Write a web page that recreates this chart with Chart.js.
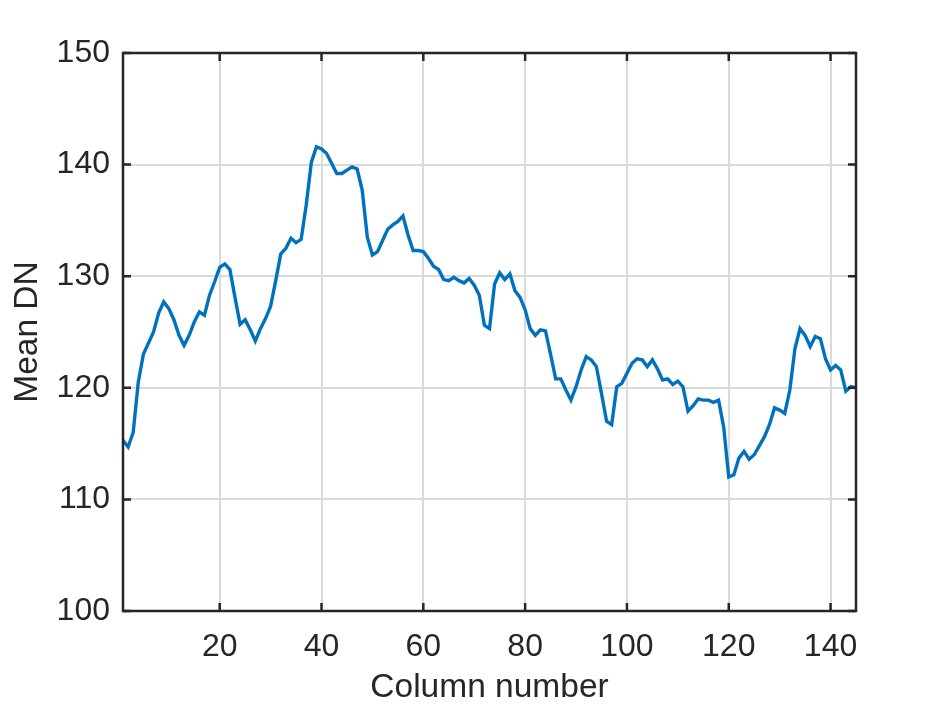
<!DOCTYPE html>
<html>
<head>
<meta charset="utf-8">
<script src="https://cdn.jsdelivr.net/npm/chart.js@4.4.0/dist/chart.umd.min.js"></script>
<style>
  body { margin: 0; background: #fff; }
  #grafico { display: block; }
</style>
</head>
<body>
<canvas id="grafico" width="945" height="708"></canvas>
<script>
// valores (Mean DN por columna)
const meanDN = [
  115.3, 114.7, 116.0, 120.5, 123.0, 124.0, 125.0, 126.7, 127.7, 127.1,
  126.1, 124.7, 123.8, 124.7, 125.9, 126.8, 126.5, 128.3, 129.5, 130.8,
  131.1, 130.6, 128.1, 125.7, 126.1, 125.2, 124.2, 125.3, 126.2, 127.3,
  129.6, 132.0, 132.5, 133.4, 133.0, 133.3, 136.4, 140.2, 141.6, 141.4,
  141.0, 140.1, 139.2, 139.2, 139.5, 139.8, 139.6, 137.7, 133.5, 131.9,
  132.2, 133.2, 134.2, 134.6, 134.9, 135.4, 133.7, 132.3, 132.3, 132.2,
  131.6, 130.9, 130.6, 129.7, 129.6, 129.9, 129.6, 129.4, 129.8, 129.2,
  128.3, 125.6, 125.3, 129.3, 130.3, 129.7, 130.2, 128.7, 128.1, 127.0,
  125.3, 124.7, 125.2, 125.1, 123.0, 120.8, 120.8, 119.8, 118.9, 120.1,
  121.6, 122.8, 122.5, 121.9, 119.5, 117.0, 116.7, 120.1, 120.4, 121.3,
  122.2, 122.6, 122.5, 121.9, 122.5, 121.7, 120.7, 120.8, 120.3, 120.6,
  120.1, 117.9, 118.4, 119.0, 118.9, 118.9, 118.7, 118.9, 116.5, 112.0,
  112.2, 113.7, 114.3, 113.6, 114.0, 114.8, 115.6, 116.7, 118.2, 118.0,
  117.7, 119.8, 123.5, 125.3, 124.7, 123.7, 124.6, 124.4, 122.6, 121.6,
  122.0, 121.6, 119.7, 120.1, 120.0
];
// numero de columna 1..145
const columnas = meanDN.map((v, i) => i + 1);
const xTicks = [20, 40, 60, 80, 100, 120, 140];
const yTicks = [100, 110, 120, 130, 140, 150];

const negro = '#262626';
const fuente = "'Liberation Sans', Arial, sans-serif";

// caja y marcas hacia adentro como en MATLAB
const cajaPlugin = {
  id: 'caja',
  afterDatasetsDraw(chart) {
    const { ctx, chartArea: a, scales: { x, y } } = chart;
    ctx.save();
    ctx.strokeStyle = negro;
    ctx.lineWidth = 2.5;
    ctx.beginPath();
    xTicks.forEach(v => {
      const px = x.getPixelForValue(v);
      ctx.moveTo(px, a.bottom); ctx.lineTo(px, a.bottom - 8);
      ctx.moveTo(px, a.top); ctx.lineTo(px, a.top + 8);
    });
    yTicks.forEach(v => {
      const py = y.getPixelForValue(v);
      ctx.moveTo(a.left, py); ctx.lineTo(a.left + 8, py);
      ctx.moveTo(a.right, py); ctx.lineTo(a.right - 8, py);
    });
    ctx.stroke();
    ctx.strokeRect(a.left, a.top, a.right - a.left, a.bottom - a.top);
    ctx.restore();
  }
};

new Chart(document.getElementById('grafico'), {
  type: 'line',
  data: {
    datasets: [{
      label: 'Mean DN',
      data: columnas.map((c, i) => ({ x: c, y: meanDN[i] })),
      borderColor: '#0072BD',
      borderWidth: 3.4,
      pointRadius: 0,
      tension: 0,
      fill: false
    }]
  },
  options: {
    responsive: false,
    animation: false,
    layout: { padding: { left: 0, top: 53, right: 89, bottom: 0 } },
    plugins: { legend: { display: false }, tooltip: { enabled: false } },
    scales: {
      x: {
        type: 'linear',
        min: 1,
        max: 145,
        afterBuildTicks: s => { s.ticks = xTicks.map(v => ({ value: v })); },
        afterFit: s => { s.height = 97; },
        border: { display: false },
        grid: { color: '#dadada', lineWidth: 2, drawTicks: false },
        ticks: { color: negro, padding: 17, font: { family: fuente, size: 32 } },
        title: {
          display: true,
          text: 'Column number',
          color: negro,
          font: { family: fuente, size: 33.5, lineHeight: 1 },
          padding: { top: 0, bottom: 3 }
        }
      },
      y: {
        min: 100,
        max: 150,
        afterBuildTicks: s => { s.ticks = yTicks.map(v => ({ value: v })); },
        afterFit: s => { s.width = 123; },
        border: { display: false },
        grid: { color: '#dadada', lineWidth: 2, drawTicks: false },
        ticks: { color: negro, padding: 13, font: { family: fuente, size: 32 } },
        title: {
          display: true,
          text: 'Mean DN',
          color: negro,
          font: { family: fuente, size: 33.5, lineHeight: 1 },
          padding: { top: 11, bottom: 0 }
        }
      }
    }
  },
  plugins: [cajaPlugin]
});
</script>
</body>
</html>
